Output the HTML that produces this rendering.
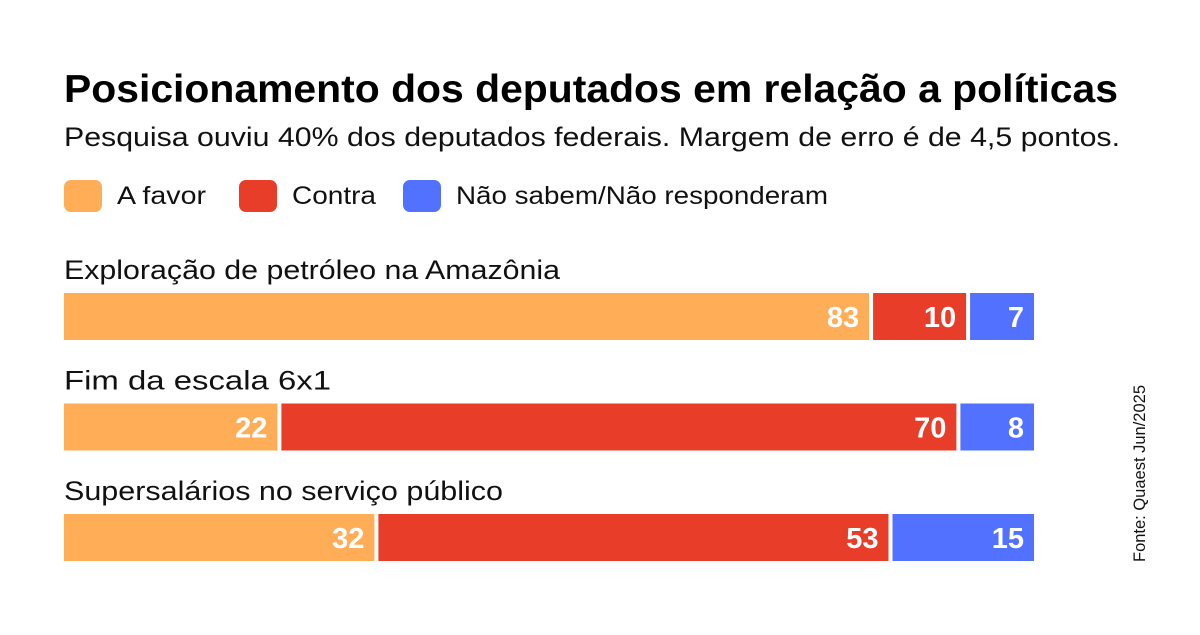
<!DOCTYPE html>
<html><head><meta charset="utf-8"><style>
body{margin:0;background:#fff;width:1200px;height:630px;overflow:hidden;font-family:"Liberation Sans",sans-serif}
</style></head><body>
<svg width="1200" height="630">
<text x="64" y="102" font-size="39" font-weight="bold" fill="#000" textLength="1054" lengthAdjust="spacingAndGlyphs">Posicionamento dos deputados em relação a políticas</text>
<text x="64" y="146" font-size="27" fill="#111" textLength="1056" lengthAdjust="spacingAndGlyphs">Pesquisa ouviu 40% dos deputados federais. Margem de erro é de 4,5 pontos.</text>
<g id="legend"></g>
<g id="bars"></g>
<text transform="translate(1145,562) rotate(-90)" font-size="17" fill="#111" textLength="177" lengthAdjust="spacingAndGlyphs">Fonte: Quaest Jun/2025</text>
</svg>
<script>
const categories=["Exploração de petróleo na Amazônia","Fim da escala 6x1","Supersalários no serviço público"];
const aFavor=[83,22,32];
const contra=[10,70,53];
const naoSabem=[7,8,15];
const seriesNames=["A favor","Contra","Não sabem/Não responderam"];
const colors=["#FFAD56","#E83D28","#5271FF"];
const catWidths=[496,267,439];
const legWidths=[89,84,372];
const NS="http://www.w3.org/2000/svg";
const x=v=>64+v/100*970;
function mk(tag,attrs,parent){const e=document.createElementNS(NS,tag);for(const k in attrs)e.setAttribute(k,attrs[k]);parent.appendChild(e);return e;}
const leg=document.getElementById('legend');
const legX=[64,239,403];
seriesNames.forEach((n,i)=>{
  const r=mk('rect',{x:legX[i],y:180,width:38,height:32,rx:7,fill:colors[i]},leg);
  
  
  const t=mk('text',{x:legX[i]+53,y:204,'font-size':25,fill:'#111',textLength:legWidths[i],lengthAdjust:'spacingAndGlyphs'},leg);
  t.textContent=n;
  
  
});
const bars=document.getElementById('bars');
const series=[aFavor,contra,naoSabem];
categories.forEach((c,ci)=>{
  const top=293+ci*110.5;
  const lab=mk('text',{x:64,y:top-14,'font-size':27,fill:'#111',textLength:catWidths[ci],lengthAdjust:'spacingAndGlyphs'},bars);
  lab.textContent=c;
  
  
  let cum=0;
  series.forEach((s,si)=>{
    const v=s[ci];
    const x0=x(cum)+(cum>0?4:0), x1=x(cum+v);
    const r=mk('rect',{x:x0,y:top,width:x1-x0,height:47,fill:colors[si]},bars);
    
    
    const t=mk('text',{x:x1-10,y:top+34,'font-size':29,'font-weight':'bold',fill:'#fff','text-anchor':'end'},bars);
    t.textContent=v;
    
    
    cum+=v;
  });
});
</script>
</body></html>
